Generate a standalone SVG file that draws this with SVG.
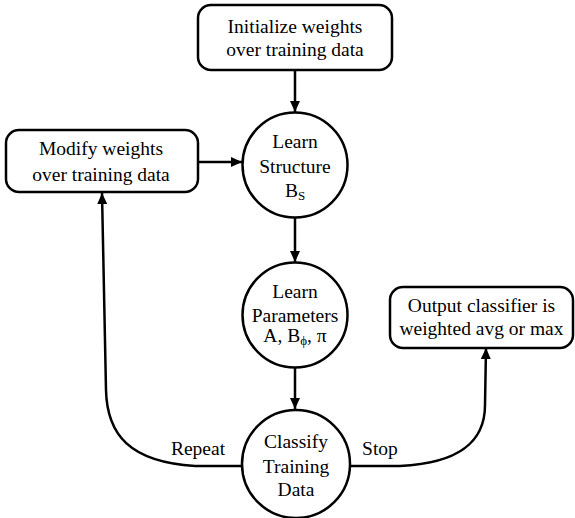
<svg xmlns="http://www.w3.org/2000/svg" width="575" height="518" viewBox="0 0 575 518">
<style>
.box{fill:#fff;stroke:#000;stroke-width:2.5}
.node{fill:#fff;stroke:#000;stroke-width:2.5}
.edge{fill:none;stroke:#000;stroke-width:2.5}
text{font-family:"Liberation Serif","Times New Roman",serif;font-size:19.5px;fill:#000;text-anchor:middle}
.sub{font-size:13px}
</style>
<defs>
<marker id="arr" markerUnits="userSpaceOnUse" markerWidth="12" markerHeight="10" refX="11" refY="5" orient="auto">
<path d="M0,0 L11,5 L0,10 Z" fill="#000"/>
</marker>
</defs>
<rect width="575" height="518" fill="#fff"/>
<g id="connectors">
<line class="edge" x1="295" y1="70" x2="295" y2="112" marker-end="url(#arr)"/>
<line class="edge" x1="198" y1="162" x2="242" y2="162" marker-end="url(#arr)"/>
<line class="edge" x1="295" y1="218" x2="295" y2="262" marker-end="url(#arr)"/>
<line class="edge" x1="295" y1="367" x2="295" y2="409" marker-end="url(#arr)"/>
<path class="edge" d="M242,466 L195,466 C130,462 107,435 106,390 L102,193" marker-end="url(#arr)"/>
<path class="edge" d="M350,466 L400,466 C462,463 485,440 485,405 L486,348" marker-end="url(#arr)"/>
<text x="198" y="455">Repeat</text>
<text x="380" y="455">Stop</text>
</g>
<g id="init">
<rect class="box" x="198" y="5" width="194" height="65" rx="13"/>
<text x="295" y="33">Initialize weights</text>
<text x="295" y="56">over training data</text>
</g>
<g id="modify">
<rect class="box" x="6" y="130" width="192" height="62" rx="13"/>
<text x="101" y="155">Modify weights</text>
<text x="101" y="181">over training data</text>
</g>
<g id="structure">
<circle class="node" cx="295" cy="165" r="52.5"/>
<text x="295" y="148">Learn</text>
<text x="295" y="173">Structure</text>
<text x="295" y="197">B<tspan class="sub" dy="3">S</tspan></text>
</g>
<g id="parameters">
<circle class="node" cx="295" cy="315" r="52.5"/>
<text x="295" y="298">Learn</text>
<text x="295" y="322">Parameters</text>
<text x="295" y="342">A, B<tspan class="sub" dy="3">ϕ</tspan><tspan dy="-3">, π</tspan></text>
</g>
<g id="classify">
<circle class="node" cx="296" cy="464" r="54"/>
<text x="296" y="448">Classify</text>
<text x="296" y="473">Training</text>
<text x="296" y="496">Data</text>
</g>
<g id="output">
<rect class="box" x="390" y="287" width="183" height="61" rx="13"/>
<text x="481.5" y="312">Output classifier is</text>
<text x="481.5" y="335">weighted avg or max</text>
</g>
</svg>
